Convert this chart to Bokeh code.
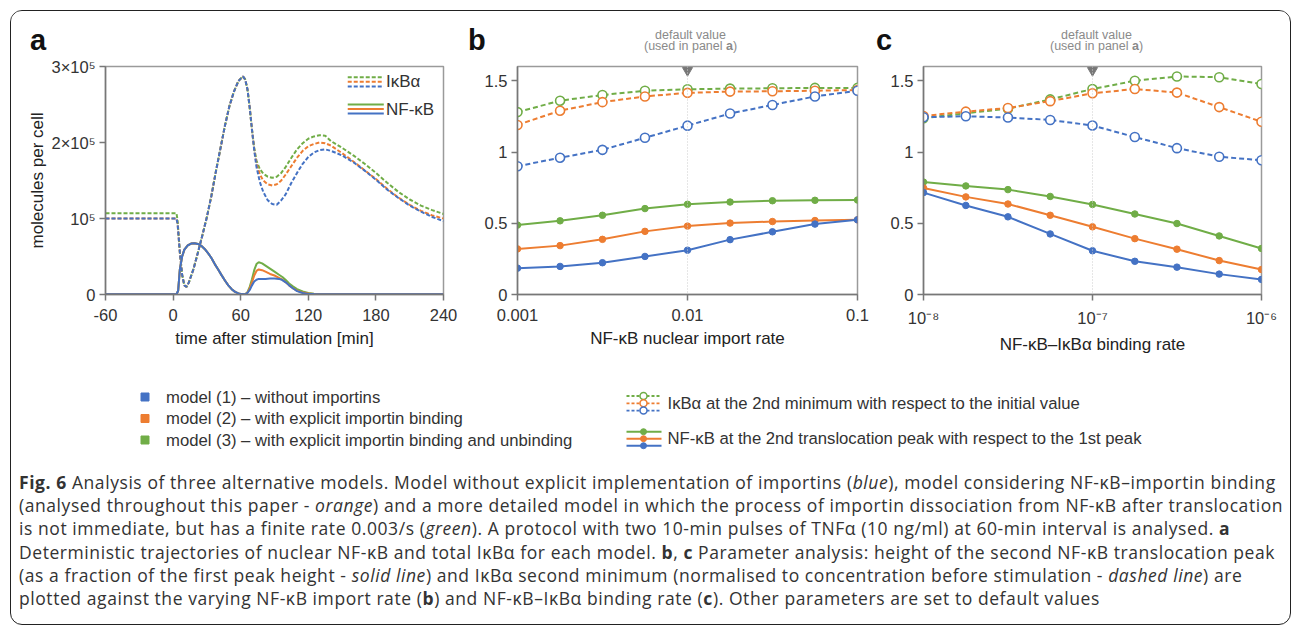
import numpy as np
from bokeh.plotting import figure
from bokeh.models import Range1d, FixedTicker, Label, Span, Div
from bokeh.layouts import row, column
from bokeh.core.properties import value
from bokeh.embed import file_html
from bokeh.resources import INLINE

BLUE = "#4472C4"
ORANGE = "#ED7D31"
GREEN = "#70AD47"
FONT = "Liberation Sans"

# ---------------- Panel a : trajectories (units of 1e5 molecules) -------------
t_ikb = [-60, 3, 4, 6, 8, 10, 12, 14, 18, 22, 26, 30, 34, 38, 42, 46, 50, 54, 58, 62,
         64, 66, 68, 70, 72, 74, 77, 80, 84, 88, 92, 96, 100, 105, 110, 115, 120, 125,
         130, 135, 140, 150, 160, 170, 180, 190, 200, 210, 220, 230, 240]
ikb_blue = [1.0, 1.0, 0.93, 0.55, 0.26, 0.12, 0.10, 0.16, 0.33, 0.55, 0.78, 1.02, 1.30, 1.62,
            1.92, 2.22, 2.48, 2.67, 2.81, 2.87, 2.83, 2.70, 2.46, 2.17, 1.90, 1.68, 1.48, 1.35,
            1.24, 1.19, 1.18, 1.24, 1.32, 1.47, 1.60, 1.72, 1.81, 1.87, 1.90, 1.91, 1.89, 1.83,
            1.74, 1.63, 1.51, 1.38, 1.27, 1.17, 1.09, 1.02, 0.965]
ikb_orange = [1.0, 1.0, 0.93, 0.55, 0.26, 0.12, 0.10, 0.16, 0.33, 0.55, 0.78, 1.02, 1.30, 1.62,
              1.92, 2.22, 2.48, 2.67, 2.81, 2.87, 2.83, 2.70, 2.46, 2.17, 1.91, 1.72, 1.58, 1.50,
              1.45, 1.435, 1.45, 1.50, 1.58, 1.69, 1.80, 1.89, 1.95, 1.98, 2.0, 1.99, 1.96, 1.86,
              1.75, 1.635, 1.52, 1.39, 1.275, 1.18, 1.10, 1.04, 1.0]
ikb_green = [1.07, 1.07, 0.97, 0.56, 0.26, 0.12, 0.10, 0.16, 0.33, 0.55, 0.78, 1.02, 1.30, 1.62,
             1.92, 2.22, 2.48, 2.67, 2.81, 2.87, 2.83, 2.70, 2.46, 2.17, 1.93, 1.76, 1.65, 1.59,
             1.55, 1.535, 1.55, 1.60, 1.68, 1.80, 1.91, 1.99, 2.05, 2.08, 2.095, 2.09, 2.02, 1.93,
             1.83, 1.72, 1.60, 1.47, 1.35, 1.25, 1.17, 1.11, 1.06]

t_nfkb = [-60, 3, 4.5, 6, 8, 10, 13, 16, 19, 22, 25, 28, 31, 34, 37, 40, 43, 46, 49, 52, 55,
          58, 61, 64, 66, 68, 70, 72, 74, 76, 79, 82, 86, 90, 94, 97, 100, 103, 106, 110, 115,
          120, 125, 130, 140, 240]
nfkb_first = [0.003, 0.003, 0.05, 0.33, 0.50, 0.59, 0.645, 0.67, 0.675, 0.665, 0.64, 0.60,
              0.545, 0.48, 0.40, 0.33, 0.255, 0.185, 0.12, 0.07, 0.035, 0.015, 0.005, 0.003]
nfkb_blue = nfkb_first + [0.02, 0.06, 0.12, 0.17, 0.195, 0.205, 0.205, 0.205, 0.21, 0.21, 0.205,
                          0.19, 0.16, 0.12, 0.085, 0.045, 0.02, 0.008, 0.005, 0.004, 0.003, 0.003]
nfkb_orange = nfkb_first + [0.025, 0.08, 0.16, 0.25, 0.31, 0.33, 0.32, 0.30, 0.27, 0.25, 0.22,
                            0.195, 0.16, 0.12, 0.085, 0.05, 0.025, 0.012, 0.006, 0.004, 0.003, 0.003]
nfkb_green = nfkb_first + [0.03, 0.10, 0.20, 0.32, 0.40, 0.425, 0.41, 0.38, 0.34, 0.30, 0.26,
                           0.23, 0.19, 0.145, 0.11, 0.07, 0.04, 0.02, 0.01, 0.006, 0.004, 0.003]
UNIT = 1e5

a_xticks = [-60, 0, 60, 120, 180, 240]
a_yticks = [0, 1e5, 2e5, 3e5]
a_ylabels = ["0", "10\u2075", "2\u00d710\u2075", "3\u00d710\u2075"]

# ---------------- Panel b : NF-kB nuclear import rate -------------------------
b_x = [0.001, 0.00178, 0.00316, 0.00562, 0.01, 0.0178, 0.0316, 0.0562, 0.1]
b_ikb_green = [1.28, 1.36, 1.40, 1.43, 1.44, 1.445, 1.447, 1.45, 1.45]
b_ikb_orange = [1.19, 1.29, 1.35, 1.39, 1.415, 1.424, 1.426, 1.43, 1.435]
b_ikb_blue = [0.90, 0.96, 1.015, 1.10, 1.185, 1.27, 1.33, 1.39, 1.43]
b_nfkb_green = [0.487, 0.517, 0.556, 0.603, 0.633, 0.649, 0.658, 0.661, 0.663]
b_nfkb_orange = [0.32, 0.343, 0.387, 0.443, 0.48, 0.501, 0.512, 0.519, 0.524]
b_nfkb_blue = [0.185, 0.197, 0.223, 0.267, 0.311, 0.385, 0.44, 0.494, 0.524]
b_xticks = [0.001, 0.01, 0.1]
b_xlabels = ["0.001", "0.01", "0.1"]
b_default = 0.01

# ---------------- Panel c : NF-kB-IkBa binding rate ---------------------------
c_x = [1e-8, 1.78e-8, 3.16e-8, 5.62e-8, 1e-7, 1.78e-7, 3.16e-7, 5.62e-7, 1e-6]
c_ikb_green = [1.237, 1.272, 1.304, 1.369, 1.442, 1.50, 1.53, 1.525, 1.477]
c_ikb_orange = [1.253, 1.283, 1.309, 1.357, 1.412, 1.442, 1.417, 1.315, 1.212]
c_ikb_blue = [1.244, 1.251, 1.242, 1.225, 1.186, 1.105, 1.027, 0.967, 0.942]
c_nfkb_green = [0.789, 0.762, 0.736, 0.688, 0.632, 0.565, 0.498, 0.411, 0.323]
c_nfkb_orange = [0.748, 0.685, 0.635, 0.556, 0.475, 0.392, 0.318, 0.238, 0.175]
c_nfkb_blue = [0.715, 0.625, 0.545, 0.425, 0.307, 0.233, 0.192, 0.143, 0.106]
c_xticks = [1e-8, 1e-7, 1e-6]
c_xlabels = ["10\u207b\u2078", "10\u207b\u2077", "10\u207b\u2076"]
c_default = 1e-7

ratio_yticks = [0, 0.5, 1, 1.5]
ratio_ylabels = ["0", "0.5", "1", "1.5"]

panel_letters = ["a", "b", "c"]
default_note = ["default value", "(used in panel ", "a", ")"]

legend_models = ["model (1) \u2013 without importins",
                 "model (2) \u2013 with explicit importin binding",
                 "model (3) \u2013 with explicit importin binding and unbinding"]
legend_colors = [BLUE, ORANGE, GREEN]
legend_series = ["I\u03baB\u03b1 at the 2nd minimum with respect to the initial value",
                 "NF-\u03baB at the 2nd translocation peak with respect to the 1st peak"]

caption_lines = [
    "<b>Fig. 6</b> Analysis of three alternative models. Model without explicit implementation of importins (<i>blue</i>), model considering NF-\u03baB\u2013importin binding",
    "(analysed throughout this paper - <i>orange</i>) and a more detailed model in which the process of importin dissociation from NF-\u03baB after translocation",
    "is not immediate, but has a finite rate 0.003/s (<i>green</i>). A protocol with two 10-min pulses of TNF\u03b1 (10 ng/ml) at 60-min interval is analysed. <b>a</b>",
    "Deterministic trajectories of nuclear NF-\u03baB and total I\u03baB\u03b1 for each model. <b>b</b>, <b>c</b> Parameter analysis: height of the second NF-\u03baB translocation peak",
    "(as a fraction of the first peak height - <i>solid line</i>) and I\u03baB\u03b1 second minimum (normalised to concentration before stimulation - <i>dashed line</i>) are",
    "plotted against the varying NF-\u03baB import rate (<b>b</b>) and NF-\u03baB\u2013I\u03baB\u03b1 binding rate (<b>c</b>). Other parameters are set to default values",
]

W = 1278
STRIP_H = 46
TOP_H = 299
LEG_H = 104
CAP_H = 163


def style(p, xlabel):
    p.outline_line_color = "#9a9a9a"
    p.outline_line_width = 1.5
    p.grid.visible = False
    p.background_fill_color = "white"
    p.border_fill_color = "white"
    for ax in p.axis:
        ax.axis_line_color = "#777777"
        ax.axis_line_width = 1.5
        ax.major_tick_line_color = "#777777"
        ax.major_tick_line_width = 1.5
        ax.major_tick_in = 0
        ax.major_tick_out = 6
        ax.minor_tick_line_color = None
        ax.major_label_text_font = FONT
        ax.major_label_text_font_size = "16.5px"
        ax.major_label_text_color = "#333333"
        ax.axis_label_text_font = FONT
        ax.axis_label_text_font_size = "17px"
        ax.axis_label_text_font_style = "normal"
        ax.axis_label_text_color = "#222222"
    p.xaxis.axis_label = xlabel
    p.xaxis.major_label_standoff = 8
    p.xaxis.axis_label_standoff = 5
    p.yaxis.major_label_standoff = 4
    p.yaxis.axis_label_standoff = 1


def blank(width, height):
    f = figure(width=width, height=height, x_range=Range1d(0, width), y_range=Range1d(height, 0),
               toolbar_location=None, output_backend="svg", min_border=0)
    f.axis.visible = False
    f.grid.visible = False
    f.outline_line_color = None
    f.border_fill_color = "white"
    f.background_fill_color = "white"
    return f


# ---------------- Top strip: panel letters and "default value" notes ----------
strip = blank(W, STRIP_H)
strip.text([18.5, 456.5, 864.5], [28.5, 28.5, 28.5], text=panel_letters, text_font=value(FONT),
           text_font_size="29px", text_font_style="bold", text_color="#111111",
           text_baseline="middle")
GRAY = "#8a8a8a"
for left in [632.5, 1038.5]:
    strip.text([left + 46.5], [23.5], text=[default_note[0]], text_font=value(FONT),
               text_font_size="12.5px", text_color=GRAY, text_align="center", text_baseline="middle")
    strip.text([left, left + 82, left + 89], [34.5] * 3, text=default_note[1:],
               text_font=value(FONT), text_font_size="12.5px", text_color=GRAY,
               text_font_style=["normal", "bold", "normal"], text_baseline="middle")

# ---------------- Panel a -----------------------------------------------------
pa = figure(width=449, height=TOP_H, x_range=Range1d(-60, 240), y_range=Range1d(0, 3e5),
            toolbar_location=None, output_backend="svg",
            min_border_left=94, min_border_right=17, min_border_top=9,
            min_border_bottom=TOP_H - 9 - 228)
style(pa, "time after stimulation [min]")
pa.xaxis.ticker = FixedTicker(ticks=a_xticks)
pa.xaxis.major_label_overrides = {v: str(v) for v in a_xticks}
pa.yaxis.ticker = FixedTicker(ticks=a_yticks)
pa.yaxis.major_label_overrides = dict(zip(a_yticks, a_ylabels))
pa.yaxis.axis_label = "molecules per cell"

for col, ik in [(GREEN, ikb_green), (ORANGE, ikb_orange), (BLUE, ikb_blue)]:
    pa.line(t_ikb, np.array(ik) * UNIT, line_color=col, line_width=2, line_dash="4 2")
for col, nf in [(GREEN, nfkb_green), (ORANGE, nfkb_orange), (BLUE, nfkb_blue)]:
    pa.line(t_nfkb, np.array(nf) * UNIT, line_color=col, line_width=2)

# in-plot legend of panel a
for i, col in enumerate([GREEN, ORANGE, BLUE]):
    pa.line([155, 187], [(2.86 - 0.062 * i) * UNIT] * 2, line_color=col, line_width=2, line_dash="4 2")
    pa.line([155, 187], [(2.50 - 0.06 * i) * UNIT] * 2, line_color=col, line_width=2)
for yv, txt in [(2.80, "I\u03baB\u03b1"), (2.44, "NF-\u03baB")]:
    pa.add_layout(Label(x=189, y=yv * UNIT, text=txt, text_font=FONT, text_font_size="17px",
                        text_color="#333333", text_baseline="middle"))


def ratio_panel(width, mbl, mbr, xr, xticks, xlabels, xlabel, xs, series, default):
    p = figure(width=width, height=TOP_H, x_axis_type="log", x_range=Range1d(*xr),
               y_range=Range1d(0, 1.6), toolbar_location=None, output_backend="svg",
               min_border_left=mbl, min_border_right=mbr, min_border_top=8,
               min_border_bottom=TOP_H - 8 - 230)
    style(p, xlabel)
    p.xaxis.ticker = FixedTicker(ticks=xticks)
    p.xaxis.major_label_overrides = dict(zip(xticks, xlabels))
    p.yaxis.ticker = FixedTicker(ticks=ratio_yticks)
    p.yaxis.major_label_overrides = dict(zip(ratio_yticks, ratio_ylabels))
    p.add_layout(Span(location=default, dimension="height", line_color="#cccccc",
                      line_width=1, line_dash="1 2"))
    for col, ik, nf in series:
        p.line(xs, ik, line_color=col, line_width=2, line_dash="5 3")
        p.scatter(xs, ik, marker="circle", size=9, fill_color="white", line_color=col, line_width=1.6)
    for col, ik, nf in series:
        p.line(xs, nf, line_color=col, line_width=2)
        p.scatter(xs, nf, marker="circle", size=6.5, fill_color=col, line_color=col)
    # "default value" marker on the top edge of the frame
    p.scatter([default], [1.6 - 4 * 1.6 / 230], marker="inverted_triangle", size=10,
              fill_color="#777777", line_color="#777777")
    return p


pb = ratio_panel(410, 57, 13, (0.001, 0.1), b_xticks, b_xlabels, "NF-\u03baB nuclear import rate", b_x,
                 [(GREEN, b_ikb_green, b_nfkb_green), (ORANGE, b_ikb_orange, b_nfkb_orange),
                  (BLUE, b_ikb_blue, b_nfkb_blue)], b_default)

pc = ratio_panel(419, 53, 28, (1e-8, 1e-6), c_xticks, c_xlabels, "NF-\u03baB\u2013I\u03baB\u03b1 binding rate", c_x,
                 [(GREEN, c_ikb_green, c_nfkb_green), (ORANGE, c_ikb_orange, c_nfkb_orange),
                  (BLUE, c_ikb_blue, c_nfkb_blue)], c_default)

# ---------------- Legend strip ------------------------------------------------
leg = blank(W, LEG_H)
for i, (lab, col) in enumerate(zip(legend_models, legend_colors)):
    yy = 40.5 + 21.5 * i
    leg.scatter([133.5], [yy], marker="square", size=8, fill_color=col, line_color=col)
    leg.text([154.5], [yy], text=[lab], text_font=value(FONT), text_font_size="16.7px",
             text_color="#333333", text_baseline="middle")
for i, col in enumerate([GREEN, ORANGE, BLUE]):
    yd = 39.5 + 7.3 * i
    leg.line([615, 650], [yd, yd], line_color=col, line_width=1.8, line_dash="3 2")
    leg.scatter([632], [yd], marker="circle", size=7, fill_color="white", line_color=col, line_width=1.5)
    ys = 75.2 + 7 * i
    leg.line([615, 650], [ys, ys], line_color=col, line_width=2)
    leg.scatter([632], [ys], marker="circle", size=6, fill_color=col, line_color=col)
leg.text([656, 656], [46.5, 82], text=legend_series, text_font=value(FONT), text_font_size="16.7px",
         text_color="#333333", text_baseline="middle")

# ---------------- Caption -----------------------------------------------------
cap = Div(text='<div style="font-family:\'Open Sans\';font-size:17.5px;letter-spacing:0.57px;'
               'line-height:23.2px;color:#333;white-space:nowrap;padding:11px 0 0 8px;">'
               + "<br>".join(caption_lines) + "</div>",
          width=W, height=CAP_H, margin=0)

page = column(strip, row(pa, pb, pc), leg, cap, width=W + 3, height=STRIP_H + TOP_H + LEG_H + CAP_H + 3,
              sizing_mode="fixed",
              styles={"border": "1.5px solid #222", "border-radius": "12px", "background": "white",
                      "box-sizing": "border-box", "overflow": "hidden"},
              margin=(10, 0, 0, 10))

open("out.html", "w").write(file_html(page, INLINE))
